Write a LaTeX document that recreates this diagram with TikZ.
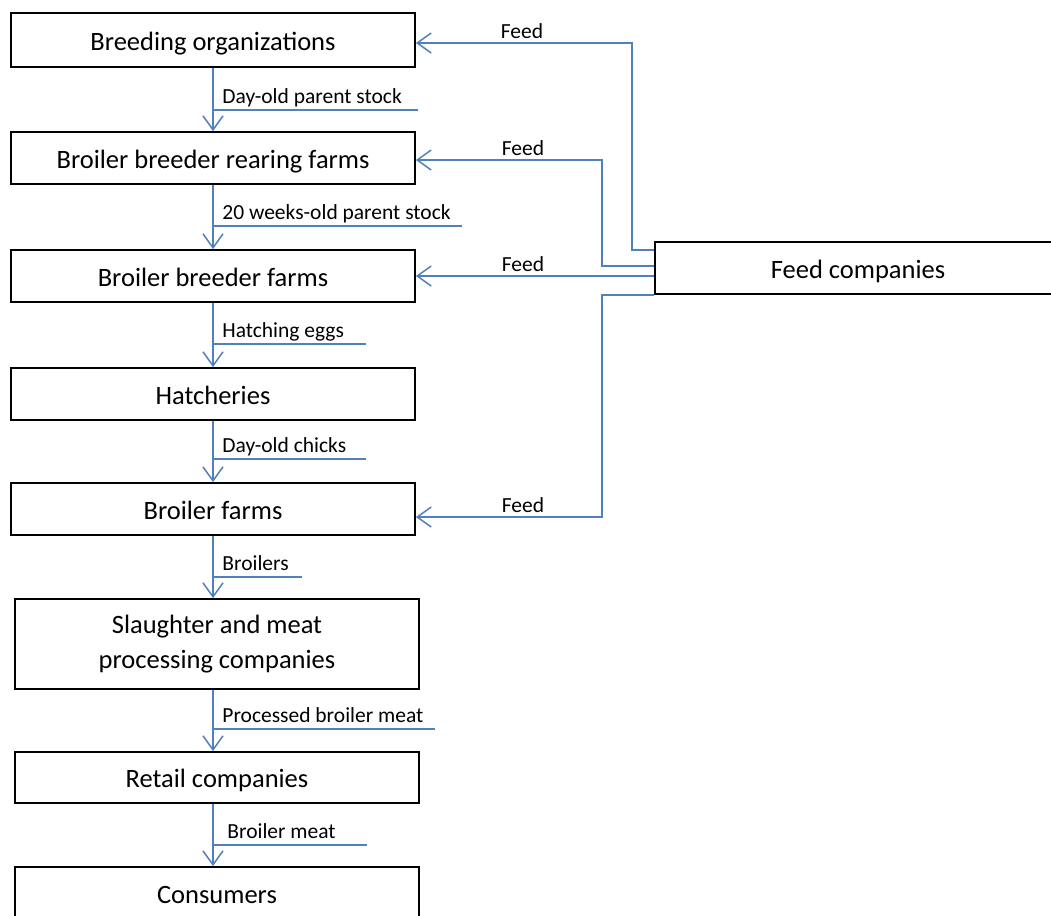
\documentclass[tikz,border=0pt]{standalone}
\usepackage{fontspec}
\setmainfont{Carlito}
\usetikzlibrary{arrows.meta}
\definecolor{lineblue}{RGB}{79,129,189}

\begin{document}
\begin{tikzpicture}[x=0.5pt,y=-0.5pt]
\tikzstyle{box}=[draw=black,line width=0.9pt,minimum width=202pt,minimum height=26pt,inner sep=0pt,align=center,text height=10pt,text depth=0pt,font=\fontsize{13.25}{17.5}\selectfont]
\tikzstyle{flow}=[-{Straight Barb[length=7pt,width=10pt]},draw=lineblue,line width=0.75pt]
\tikzstyle{uline}=[draw=lineblue,line width=0.75pt]
\tikzstyle{lbl}=[anchor=south west,inner xsep=4.5pt,inner ysep=3pt,text depth=0pt,font=\fontsize{10.75}{13}\selectfont]
\tikzstyle{feedlbl}=[anchor=south,inner sep=2pt,font=\fontsize{10.75}{13}\selectfont]
    \useasboundingbox (0,0) rectangle (1051,916);
    % chain of boxes
    \node[box,minimum height=27pt] (breed) at (213,40) {Breeding organizations};
    \node[box] (rear) at (213,158) {Broiler breeder rearing farms};
    \node[box] (bfarm) at (213,276) {Broiler breeder farms};
    \node[box] (hatch) at (213,394) {Hatcheries};
    \node[box] (broiler) at (213,509) {Broiler farms};
    \node[box,minimum height=45pt,text height=,text depth=] (slaughter) at (217,644) {Slaughter and meat\\processing companies};
    \node[box,minimum height=25.5pt] (retail) at (217,777.5) {Retail companies};
    \node[box] (cons) at (217,893) {Consumers};
    \node[box,minimum width=203pt] (feed) at (858,268) {Feed companies};
    \coordinate (spine) at (213,0);
    % flows down the chain
    \draw[flow] (breed.south) -- (rear.north);
    \draw[flow] (rear.south) -- (bfarm.north);
    \draw[flow] (bfarm.south) -- (hatch.north);
    \draw[flow] (hatch.south) -- (broiler.north);
    \draw[flow] (broiler.south) -- (slaughter.north -| spine);
    \draw[flow] (slaughter.south -| spine) -- (retail.north -| spine);
    \draw[flow] (retail.south -| spine) -- (cons.north -| spine);
    % flow labels
    \node[lbl] (l1) at (213,110) {Day-old parent stock};
    \draw[uline] (l1.south west) -- (l1.south west -| 418,0);
    \node[lbl] (l2) at (213,226) {20 weeks-old parent stock};
    \draw[uline] (l2.south west) -- (l2.south west -| 462,0);
    \node[lbl] (l3) at (213,344) {Hatching eggs};
    \draw[uline] (l3.south west) -- (l3.south west -| 366,0);
    \node[lbl] (l4) at (213,459) {Day-old chicks};
    \draw[uline] (l4.south west) -- (l4.south west -| 366,0);
    \node[lbl] (l5) at (213,577) {Broilers};
    \draw[uline] (l5.south west) -- (l5.south west -| 302,0);
    \node[lbl] (l6) at (213,729) {Processed broiler meat};
    \draw[uline] (l6.south west) -- (l6.south west -| 435,0);
    \node[lbl,inner xsep=7pt] (l7) at (213,845) {Broiler meat};
    \draw[uline] (l7.south west) -- (l7.south west -| 367,0);
    % feed
    \draw[flow] ([yshift=9pt]feed.west) -| (632,43) -- ([yshift=-1.5pt]breed.east);
    \draw[flow] ([yshift=1pt]feed.west) -| (602,160) -- ([yshift=-1pt]rear.east);
    \draw[flow] ([yshift=-4pt]feed.west) -- (bfarm.east);
    \draw[flow] (feed.south west) -| (602,517) -- ([yshift=-4pt]broiler.east);
    \node[feedlbl] (f1) at (522,43) {Feed};
    \node[feedlbl] (f2) at (523,160) {Feed};
    \node[feedlbl] (f3) at (523,276) {Feed};
    \node[feedlbl] (f4) at (523,517) {Feed};
\end{tikzpicture}
\end{document}
